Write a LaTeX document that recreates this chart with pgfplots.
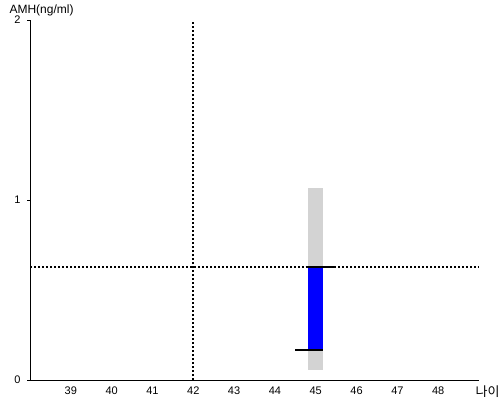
\documentclass[border=0pt]{standalone}
\usepackage{fontspec}
\setmainfont{Liberation Sans}
\newfontfamily\kr{Noto Sans CJK KR}
\usepackage{pgfplots}
\pgfplotsset{compat=1.18}
\definecolor{lg}{RGB}{211,211,211}
\begin{document}
\begin{tikzpicture}[x=1pt,y=1pt]
\useasboundingbox (0,0) rectangle (500,400);
\begin{axis}[
  at={(30pt,20pt)}, anchor=south west,
  scale only axis, width=449pt, height=360pt,
  xmin=38, xmax=49, ymin=0, ymax=2,
  axis x line*=bottom, axis y line*=left,
  axis line style={line width=0.8pt, -},
  xtick={39,...,48}, ytick={0,1,2},
  x tick style={draw=none},
  y tick style={line width=0.8pt, black},
  tick align=outside, major tick length=3pt,
  /pgf/number format/assume math mode=true,
  ticklabel style={font=\fontsize{11}{13}\selectfont},
  yticklabel style={xshift=-3pt},
  xticklabel style={yshift=-0.5pt},
  every axis y label/.style={at={(axis description cs:-0.0535,1.028)}, anchor=west, font=\fontsize{12}{14}\selectfont},
  every axis x label/.style={at={(axis description cs:1.019,-0.032)}, anchor=center, font=\kr\fontsize{13}{15}\selectfont},
  ylabel={AMH(ng/ml)},
  xlabel={나이},
]
\addplot[draw=none, fill=lg] coordinates {(44.8,0.056) (45.19,0.056) (45.19,1.069) (44.8,1.069)} -- cycle;
\addplot[draw=none, fill=blue] coordinates {(44.8,0.167) (45.19,0.167) (45.19,0.628) (44.8,0.628)} -- cycle;
\addplot[black, line width=2pt, dash pattern=on 2pt off 2pt] coordinates {(38,0.628) (49,0.628)};
\addplot[black, line width=2pt, dash pattern=on 2pt off 2pt] coordinates {(42,0) (42,2)};
\addplot[black, line width=2pt] coordinates {(44.75,0.628) (45.45,0.628)};
\addplot[black, line width=2pt] coordinates {(44.5,0.167) (45.19,0.167)};
\end{axis}
\end{tikzpicture}
\end{document}
